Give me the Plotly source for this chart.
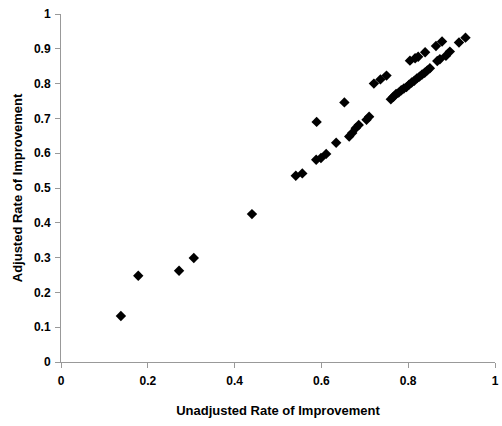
import plotly.graph_objects as go

# Unadjusted vs adjusted rate of improvement
unadjusted = [
    0.138, 0.178, 0.272, 0.306, 0.440, 0.541, 0.556, 0.588, 0.599, 0.611,
    0.634, 0.589, 0.653, 0.664, 0.671, 0.679, 0.686, 0.704, 0.710, 0.721,
    0.736, 0.750, 0.760, 0.766, 0.772, 0.778, 0.784, 0.790, 0.796, 0.802,
    0.808, 0.814, 0.820, 0.826, 0.832, 0.838, 0.844, 0.850, 0.804, 0.816,
    0.823, 0.839, 0.864, 0.878, 0.867, 0.873, 0.887, 0.896, 0.917, 0.932,
]
adjusted = [
    0.132, 0.248, 0.262, 0.299, 0.425, 0.535, 0.542, 0.581, 0.586, 0.598,
    0.630, 0.690, 0.746, 0.648, 0.658, 0.672, 0.681, 0.696, 0.705, 0.800,
    0.812, 0.823, 0.755, 0.762, 0.770, 0.774, 0.781, 0.786, 0.790, 0.797,
    0.803, 0.808, 0.815, 0.820, 0.826, 0.831, 0.838, 0.844, 0.866, 0.873,
    0.877, 0.890, 0.908, 0.921, 0.865, 0.870, 0.880, 0.892, 0.918, 0.932,
]

x_ticks = [0, 0.2, 0.4, 0.6, 0.8, 1]
x_tick_text = ["0", "0.2", "0.4", "0.6", "0.8", "1"]
y_ticks = [0, 0.1, 0.2, 0.3, 0.4, 0.5, 0.6, 0.7, 0.8, 0.9, 1]
y_tick_text = ["0", "0.1", "0.2", "0.3", "0.4", "0.5", "0.6", "0.7", "0.8", "0.9", "1"]

fig = go.Figure(
    go.Scatter(
        x=unadjusted,
        y=adjusted,
        mode="markers",
        marker=dict(symbol="diamond", size=8, color="black", line=dict(width=0)),
        cliponaxis=False,
    )
)

tick_font = dict(family="Liberation Sans, Arial, sans-serif", size=12, color="black", weight="bold")
title_font = dict(family="Liberation Sans, Arial, sans-serif", size=13, color="black", weight="bold")

fig.update_layout(
    width=502,
    height=426,
    margin=dict(l=61, r=3, t=14, b=64),
    paper_bgcolor="white",
    plot_bgcolor="white",
    showlegend=False,
    xaxis=dict(
        range=[0, 1],
        tickvals=x_ticks,
        ticktext=x_tick_text,
        tickfont=tick_font,
        ticks="outside",
        ticklen=5,
        tickcolor="#999999",
        ticklabelstandoff=3,
        ticklabeloverflow="allow",
        showline=True,
        linecolor="#999999",
        linewidth=1,
        showgrid=False,
        zeroline=False,
        title=dict(text="Unadjusted Rate of Improvement", font=title_font, standoff=18),
    ),
    yaxis=dict(
        range=[0, 1],
        tickvals=y_ticks,
        ticktext=y_tick_text,
        tickfont=tick_font,
        ticks="outside",
        ticklen=5,
        tickcolor="#999999",
        ticklabelstandoff=2,
        showline=True,
        linecolor="#999999",
        linewidth=1,
        showgrid=False,
        zeroline=False,
        title=dict(text="Adjusted Rate of Improvement", font=title_font, standoff=8),
    ),
)

fig.write_html("out.html")
